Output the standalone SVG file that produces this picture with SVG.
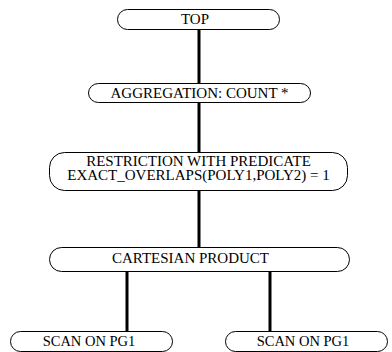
<svg xmlns="http://www.w3.org/2000/svg" width="392" height="352" viewBox="0 0 392 352">
  <style>
    .box { fill: #ffffff; stroke: #000000; stroke-width: 1; }
    .lbl { font-family: "Liberation Serif", "Times New Roman", serif; font-size: 15px; fill: #000000; text-anchor: middle; }
    .edge { stroke: #000000; stroke-width: 3; fill: none; }
  </style>
  <rect width="392" height="352" fill="#ffffff"/>
  <g id="connectors">
    <line class="edge" x1="199" y1="29" x2="199" y2="83"/>
    <line class="edge" x1="199" y1="102" x2="199" y2="152"/>
    <line class="edge" x1="199" y1="190" x2="199" y2="248"/>
    <line class="edge" x1="127" y1="271" x2="127" y2="331"/>
    <line class="edge" x1="270" y1="271" x2="270" y2="331"/>
  </g>
  <g id="top">
    <rect class="box" x="117.5" y="9.5" width="162" height="20" rx="10" ry="10"/>
    <text class="lbl" x="195" y="23.5">TOP</text>
  </g>
  <g id="aggregation">
    <rect class="box" x="88.5" y="83.5" width="222" height="19" rx="10" ry="9.5"/>
    <text class="lbl" x="199.5" y="97.5">AGGREGATION: COUNT *</text>
  </g>
  <g id="restriction">
    <rect class="box" x="49.5" y="152.5" width="298" height="38" rx="15" ry="15"/>
    <text class="lbl"><tspan x="198.5" y="166">RESTRICTION WITH PREDICATE</tspan><tspan x="198.5" y="180">EXACT_OVERLAPS(POLY1,POLY2) = 1</tspan></text>
  </g>
  <g id="cartesian">
    <rect class="box" x="49.5" y="247.5" width="300" height="24" rx="12" ry="12"/>
    <text class="lbl" x="190.5" y="263">CARTESIAN PRODUCT</text>
  </g>
  <g id="scan-left">
    <rect class="box" x="10.5" y="331.5" width="162" height="20" rx="10" ry="10"/>
    <text class="lbl" x="89" y="345.5" style="font-size:14.5px">SCAN ON PG1</text>
  </g>
  <g id="scan-right">
    <rect class="box" x="225.5" y="331.5" width="162" height="20" rx="10" ry="10"/>
    <text class="lbl" x="303" y="345.5" style="font-size:14.5px">SCAN ON PG1</text>
  </g>
</svg>
